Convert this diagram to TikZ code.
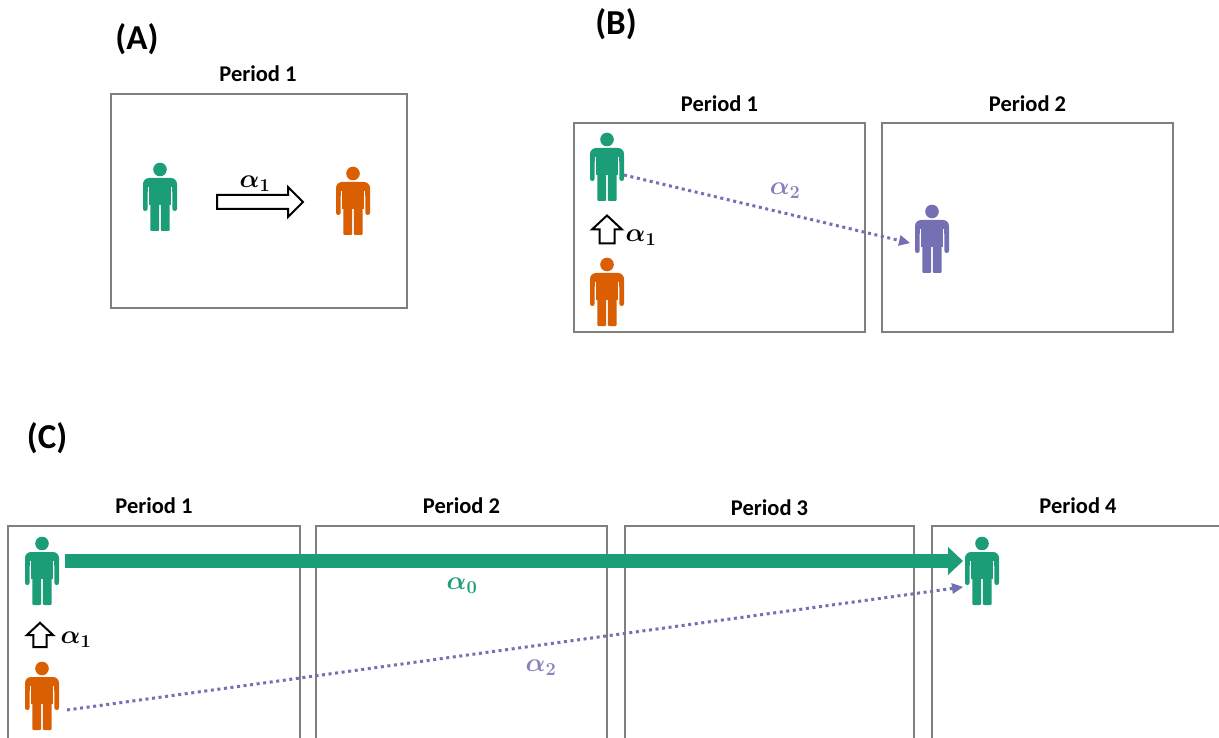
\RequirePackage{fix-cm}
\documentclass[tikz,border=0pt]{standalone}
\usepackage{fontspec}
\setmainfont{Carlito}
\usepackage{amsmath,bm}
\usetikzlibrary{arrows.meta,calc}
\definecolor{dgreen}{HTML}{1B9E77}
\definecolor{dorange}{HTML}{D95F02}
\definecolor{dpurple}{HTML}{7570B3}
\definecolor{lpurple}{HTML}{8781BE}
\definecolor{boxgray}{HTML}{7F7F7F}
\tikzset{
  pics/person/.style={code={
    \fill[#1] (0,-27.5) circle[radius=6.8];
    \fill[#1, rounded corners=6pt] (-17,-19) rectangle (17,-5);
    \fill[#1, rounded corners=2.2pt] (-17,-12) rectangle (-12.4,14);
    \fill[#1, rounded corners=2.2pt] (12.4,-12) rectangle (17,14);
    \fill[#1] (-10.6,-12) rectangle (10.6,8);
    \fill[#1, rounded corners=1pt] (-9.6,4) rectangle (-0.9,34);
    \fill[#1, rounded corners=1pt] (0.9,4) rectangle (9.6,34);
    \fill[white] (-12.4,-10) rectangle (-10.6,15);
    \fill[white] (10.6,-10) rectangle (12.4,15);
  }},
  pics/harrowA/.style={code={
    \filldraw[fill=white,draw=black,line width=2pt,line join=miter]
      (-43,-7) -- (28,-7) -- (28,-15) -- (43,0) -- (28,15) -- (28,7) -- (-43,7) -- cycle;
  }},
  pics/harrowUp/.style={code={
    \filldraw[fill=white,draw=black,line width=2pt,line join=miter]
      (-14,-7.5) -- (0,-7.5) -- (0,-15) -- (14,0) -- (0,15) -- (0,7.5) -- (-14,7.5) -- cycle;
  }},
  personbox/.style={minimum width=34pt,minimum height=68pt,inner sep=0pt,outer sep=0pt},
  pbox/.style={draw=boxgray,line width=2.4pt,inner sep=0pt,outer sep=0pt},
  ptitle/.style={font=\bfseries\fontsize{22.5}{26}\selectfont,anchor=base,inner sep=0pt},
  plabel/.style={font=\bfseries\fontsize{35}{40}\selectfont,anchor=base,inner sep=0pt},
  mlabel/.style={font=\fontsize{26}{30}\selectfont,inner sep=0pt},
  greenarrow/.style={draw=dgreen,line width=14pt,-{Triangle[length=15pt,width=28pt,line width=0pt]}},
  dotarrow/.style={draw=dpurple,line width=3pt,dash pattern=on 3pt off 3.6pt,-{Triangle[length=11pt,width=11pt,line width=0pt]}}
}
\begin{document}
\begin{tikzpicture}[x=1pt,y=-1pt]
\useasboundingbox (0,0) rectangle (1219,738);
\clip (0,0) rectangle (1219,738);
\fill[white] (0,0) rectangle (1219,738);

% ---------- (A)
\node[plabel] (lA) at (137,50) {(A)};
\node[ptitle] (tA) at (258,82) {Period 1};
\node[pbox,minimum width=296pt,minimum height=214pt] (Abox) at (259,201) {};
\node[personbox] (A1) at (160,197) {};
\node[personbox] (A2) at (353,201) {};
\pic at (A1) {person=dgreen};
\pic at (A2) {person=dorange};
\pic at ($(A1.east)!0.5!(A2.west)+(3.5,3)$) {harrowA};
\node[mlabel] (aA) at (255,184) {$\bm{\alpha_1}$};

% ---------- (B)
\node[plabel] (lB) at (616,35) {(B)};
\node[ptitle] (tB1) at (719.5,112) {Period 1};
\node[ptitle] (tB2) at (1027.5,112) {Period 2};
\node[pbox,minimum width=291pt,minimum height=209pt] (B1box) at (719.5,227.5) {};
\node[pbox,minimum width=291pt,minimum height=209pt] (B2box) at (1027.5,227.5) {};
\node[personbox] (B1) at (607,167) {};
\node[personbox] (B2) at (607,292) {};
\node[personbox] (B3) at (932,239) {};
\pic at (B1) {person=dgreen};
\pic at (B2) {person=dorange};
\pic at (B3) {person=dpurple};
\pic[rotate=90] at ($(B2.north)!0.5!(B1.south)$) {harrowUp};
\node[mlabel] (aB1) at (641,238) {$\bm{\alpha_1}$};
\draw[dotarrow] ([yshift=-8pt]B1.east) -- ([xshift=-5pt,yshift=-4pt]B3.west);
\node[mlabel,text=lpurple] (aB2) at (785,191) {$\bm{\alpha_2}$};

% ---------- (C)
\node[plabel] (lC) at (47,448) {(C)};
\node[ptitle] (tC1) at (154,513) {Period 1};
\node[ptitle] (tC2) at (461.5,513) {Period 2};
\node[ptitle] (tC3) at (769.5,515) {Period 3};
\node[ptitle] (tC4) at (1078,513) {Period 4};
\node[pbox,minimum width=292pt,minimum height=214pt] (C1box) at (154,633) {};
\node[pbox,minimum width=291pt,minimum height=214pt] (C2box) at (461.5,633) {};
\node[pbox,minimum width=289pt,minimum height=214pt] (C3box) at (769.5,633) {};
\node[pbox,minimum width=292pt,minimum height=214pt] (C4box) at (1078,633) {};
\node[personbox] (C1) at (42,571) {};
\node[personbox] (C2) at (42,696) {};
\node[personbox] (C4) at (982,571) {};
\pic at (C1) {person=dgreen};
\pic at (C2) {person=dorange};
\pic at (C4) {person=dgreen};
\pic[rotate=90,scale=0.87] at ($(C2.north)!0.5!(C1.south)+(-2,1.5)$) {harrowUp};
\node[mlabel] (aC1) at (76,640) {$\bm{\alpha_1}$};
\draw[greenarrow] ([xshift=6pt,yshift=10pt]C1.east) -- ([xshift=-2pt,yshift=10pt]C4.west);
\node[mlabel,text=dgreen] (aC0) at (462,586) {$\bm{\alpha_0}$};
\draw[dotarrow] ([xshift=8pt,yshift=-14pt]C2.east) -- ([xshift=-2pt,yshift=-16pt]C4.west);
\node[mlabel,text=lpurple] (aC2) at (541,668) {$\bm{\alpha_2}$};
\end{tikzpicture}
\end{document}
